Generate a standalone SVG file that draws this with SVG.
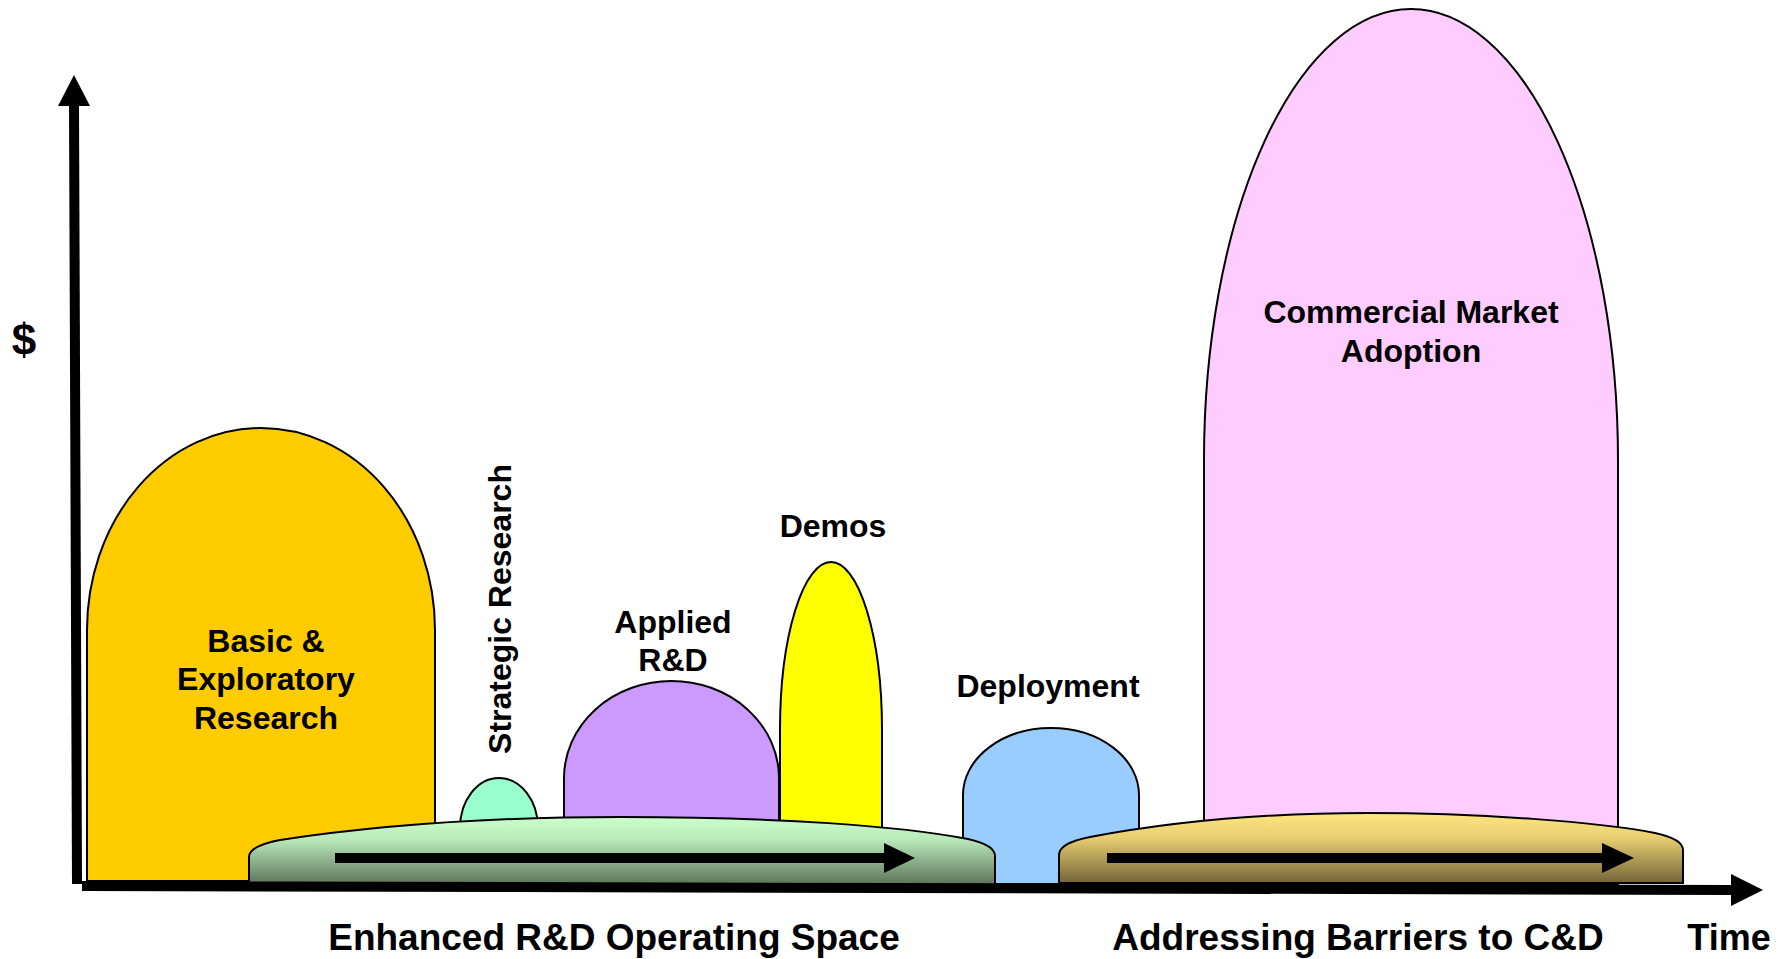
<svg xmlns="http://www.w3.org/2000/svg" width="1789" height="959" viewBox="0 0 1789 959">
<defs>
<linearGradient id="gGreen" x1="0" y1="0" x2="0" y2="1">
<stop offset="0" stop-color="#CCFFCC"/>
<stop offset="0.35" stop-color="#B8E6B8"/>
<stop offset="1" stop-color="#5A7358"/>
</linearGradient>
<linearGradient id="gGold" x1="0" y1="0" x2="0" y2="1">
<stop offset="0" stop-color="#FFE680"/>
<stop offset="0.35" stop-color="#E8CF72"/>
<stop offset="1" stop-color="#746438"/>
</linearGradient>
<style>
.shape{stroke:#000;stroke-width:2}
.lbl{font-family:"Liberation Sans",Arial,sans-serif;font-weight:bold;font-size:32px;fill:#000;text-anchor:middle}
.big{font-family:"Liberation Sans",Arial,sans-serif;font-weight:bold;font-size:37px;fill:#000;text-anchor:middle}
.axis{stroke:#000;stroke-width:10;fill:none}
</style>
</defs>
<rect width="1789" height="959" fill="#fff"/>

<g id="commercial">
<path class="shape" fill="#FFCCFF" d="M1204,884 V460 A207,451 0 0 1 1618,460 V884 Z"/>
<text class="lbl" x="1411" y="323">Commercial Market</text>
<text class="lbl" x="1411" y="362">Adoption</text>
</g>

<g id="deployment">
<path class="shape" fill="#99CCFF" d="M963,884 V795 A88,67 0 0 1 1139,795 V884 Z"/>
<text class="lbl" x="1048" y="697">Deployment</text>
</g>

<g id="basic">
<path class="shape" fill="#FFCC00" d="M87,881 V630 A174,202 0 0 1 435,630 V881 Z"/>
<text class="lbl" x="266" y="652">Basic &amp;</text>
<text class="lbl" x="266" y="690">Exploratory</text>
<text class="lbl" x="266" y="729">Research</text>
</g>

<g id="strategic">
<path class="shape" fill="#99FFCC" d="M460,840 V828 A39,50 0 0 1 538,828 V840 Z"/>
<text class="lbl" transform="translate(511,609) rotate(-90)" x="0" y="0">Strategic Research</text>
</g>

<g id="applied">
<path class="shape" fill="#CC99FF" d="M564,840 V778 A107.5,97 0 0 1 779,778 V840 Z"/>
<text class="lbl" x="673" y="633">Applied</text>
<text class="lbl" x="673" y="671">R&amp;D</text>
</g>

<g id="demos">
<path class="shape" fill="#FFFF00" d="M780,850 V730 A51,168 0 0 1 882,730 V850 Z"/>
<text class="lbl" x="833" y="537">Demos</text>
</g>

<g id="enhanced">
<path class="shape" fill="url(#gGreen)" d="M249,885 V857 Q249,846 280,840 C400,822 520,817 620,817 C780,817 900,826 968,839 Q995,845 995,856 V885 Z"/>
<text class="big" x="614" y="950">Enhanced R&amp;D Operating Space</text>
</g>

<g id="barriers">
<path class="shape" fill="url(#gGold)" d="M1059,883 V855 Q1059,843 1090,837 C1180,820 1270,813 1368,813 C1480,813 1600,822 1655,833 Q1683,839 1683,850 V883 Z"/>
<text class="big" x="1358" y="950">Addressing Barriers to C&amp;D</text>
</g>

<g id="connectors">
<line x1="335" y1="858" x2="886" y2="858" stroke="#000" stroke-width="10"/>
<polygon points="884,843 915,858 884,873" fill="#000"/>
<line x1="1107" y1="858" x2="1604" y2="858" stroke="#000" stroke-width="10"/>
<polygon points="1602,843 1634,858 1602,873" fill="#000"/>
<line class="axis" x1="77" y1="884" x2="74" y2="104"/>
<polygon points="74,75 58,106 90,106" fill="#000"/>
<line class="axis" x1="82" y1="886" x2="1735" y2="890"/>
<polygon points="1763,890 1731,874 1731,906" fill="#000"/>
</g>

<g id="labels">
<text class="big" x="24" y="355" style="font-size:44px">$</text>
<text class="big" x="1729" y="950" style="font-size:36px">Time</text>
</g>
</svg>
